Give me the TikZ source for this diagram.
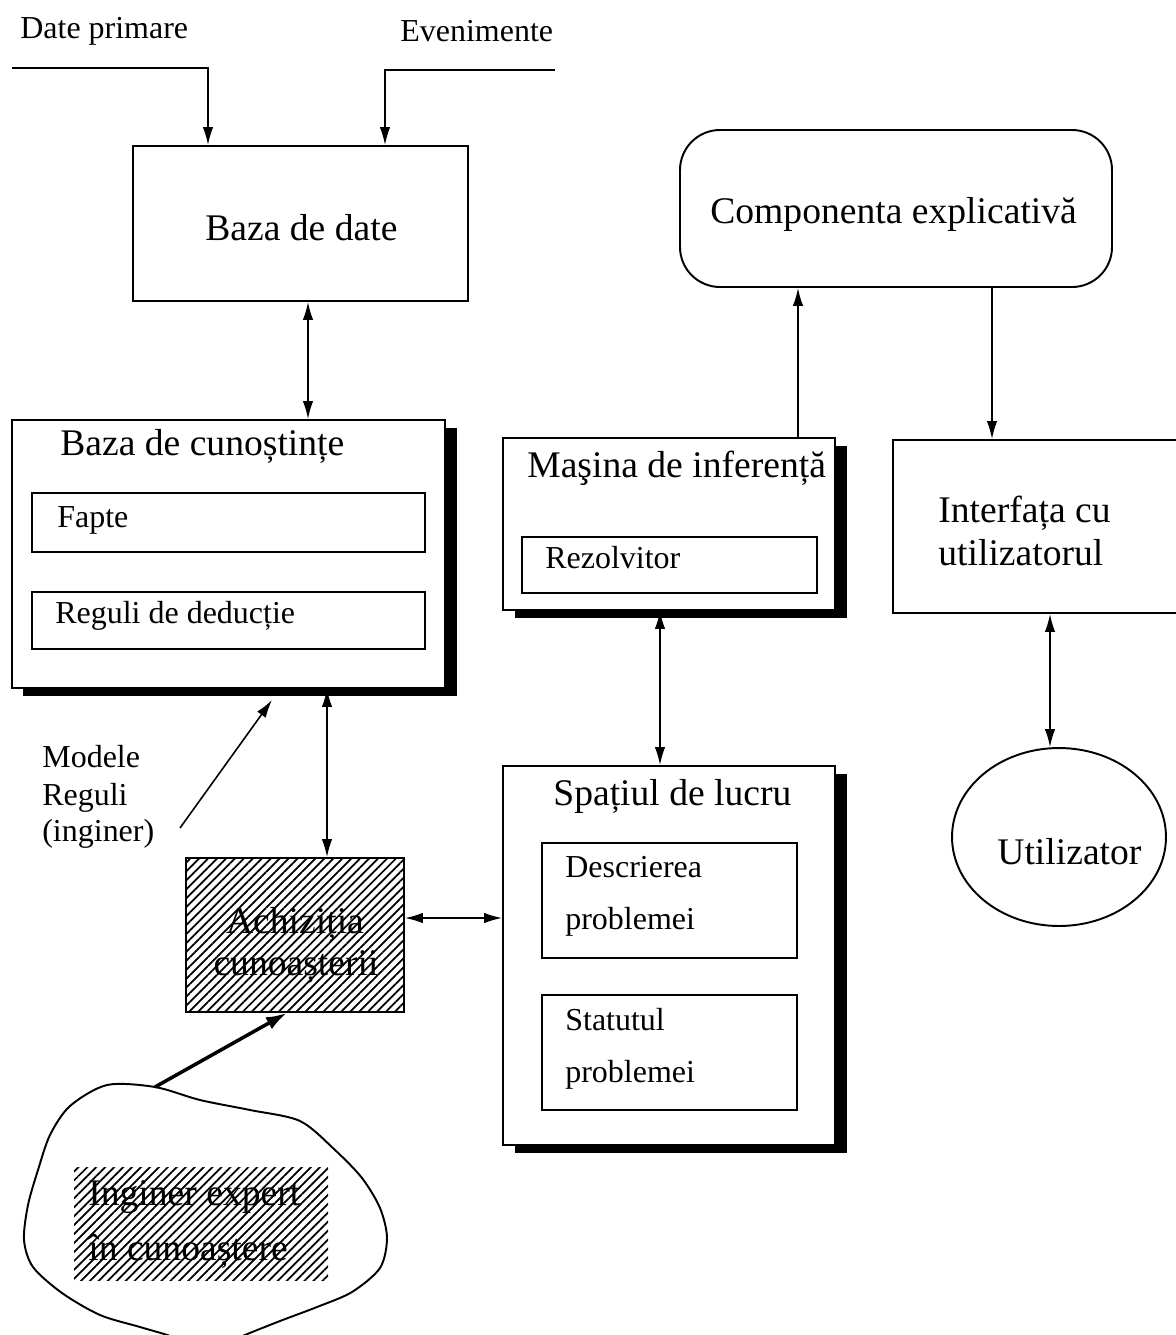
\documentclass[tikz,border=0pt]{standalone}
\usepackage{fontspec}
\setmainfont{Liberation Serif}
\usetikzlibrary{arrows.meta,fit,shadows,patterns.meta,shapes.geometric}

\tikzset{
  box/.style={draw, line width=1.1pt, inner sep=0pt, fill=white},
  shbox/.style={box, drop shadow={shadow xshift=0.23cm, shadow yshift=-0.16cm, opacity=1, fill=black}},
  big/.style={font=\fontsize{21.4pt}{25pt}\selectfont, inner sep=0pt},
  small/.style={font=\fontsize{18.2pt}{22pt}\selectfont, inner sep=0pt},
  tip/.tip={Latex[length=0.36cm,width=0.21cm]},
  arr/.style={line width=0.9pt, -tip},
  darr/.style={line width=0.9pt, tip-tip},
  hatch/.style={pattern={Lines[angle=45,distance=3.6pt,line width=1pt]}},
}

\begin{document}
\begin{tikzpicture}[x=0.02cm, y=-0.02cm]
\useasboundingbox (0,0) rectangle (1176,1335);

% ---------- inputs ----------
\node[small, anchor=base west] (dpt) at (20,39) {Date primare};
\node[small, anchor=base west] (evt) at (400,42) {Evenimente};
\coordinate (dpin) at (12,68);
\coordinate (evin) at (555,70);

% ---------- database ----------
\node[box, fit={(133,146) (468,301)}] (bd) {};
\node[big, anchor=base west] (bdt) at (205,240) {Baza de date};

% ---------- explanation component ----------
\node[box, rounded corners=0.8cm, fit={(680,130) (1112,287)}] (ce) {};
\node[big, anchor=base west] (cet) at (710,223) {Componenta explicativă};

% ---------- knowledge base ----------
\node[shbox, fit={(12,420) (445,688)}] (bc) {};
\node[big, anchor=base west] (bct) at (60,455) {Baza de cunoștințe};
\node[box, fit={(32,493) (425,552)}] (fa) {};
\node[small, anchor=base west] (fat) at (57,527) {Fapte};
\node[box, fit={(32,592) (425,649)}] (rd) {};
\node[small, anchor=base west] (rdt) at (55,623) {Reguli de deducție};

% ---------- inference engine ----------
\node[shbox, fit={(503,438) (835,610)}] (mi) {};
\node[big, anchor=base west] (mit) at (527,477) {Maşina de inferență};
\node[box, fit={(522,537) (817,593)}] (rz) {};
\node[small, anchor=base west] (rzt) at (545,568) {Rezolvitor};

% ---------- user interface ----------
\node[box, fit={(893,440) (1200,613)}] (iu) {};
\node[big, anchor=base west] (iut1) at (938,522) {Interfața cu};
\node[big, anchor=base west] (iut2) at (938,565) {utilizatorul};

% ---------- user ----------
\node[draw, ellipse, line width=1.1pt, inner sep=0pt,
      minimum width=4.28cm, minimum height=3.56cm] (ut) at (1059,837) {};
\node[big, anchor=base west] (utt) at (997,864) {Utilizator};

% ---------- working space ----------
\node[shbox, fit={(503,766) (835,1145)}] (sl) {};
\node[big, anchor=base west] (slt) at (553,805) {Spațiul de lucru};
\node[box, fit={(542,843) (797,958)}] (dp) {};
\node[small, anchor=base west] (dpt1) at (565,877) {Descrierea};
\node[small, anchor=base west] (dpt2) at (565,929) {problemei};
\node[box, fit={(542,995) (797,1110)}] (sp) {};
\node[small, anchor=base west] (spt1) at (565,1030) {Statutul};
\node[small, anchor=base west] (spt2) at (565,1082) {problemei};

% ---------- knowledge acquisition ----------
\node[box, hatch, fit={(186,858) (404,1012)}] (ac) {};
\node[big, anchor=base] (act1) at (295,933) {Achiziția};
\node[big, anchor=base] (act2) at (296,975) {cunoașterii};

% ---------- engineer's notes ----------
\node[small, anchor=base west] (mr1) at (42,767) {Modele};
\node[small, anchor=base west] (mr2) at (42,805) {Reguli};
\node[small, anchor=base west] (mr3) at (42,841) {(inginer)};
\coordinate (mrin) at (180,828);
\coordinate (mrtip) at (272,700);

% ---------- knowledge engineer ----------
\draw[line width=1.1pt] plot[smooth cycle, tension=0.5] coordinates {
  (107,1085) (155,1087) (200,1100) (250,1110) (300,1121) (335,1150)
  (362,1178) (380,1208) (387,1238) (380,1268) (352,1292) (317,1307)
  (280,1321) (240,1337) (206,1352) (173,1337) (140,1327) (100,1315)
  (62,1293) (33,1267) (24,1240) (28,1205) (38,1170) (50,1135)
  (70,1106)};
\coordinate (ie) at (155,1087);
\path[hatch] (74,1167) rectangle (328,1280);
\node[big, anchor=base west] (iet1) at (88,1205) {Inginer expert};
\node[big, anchor=base west] (iet2) at (88,1260) {în cunoaștere};

% ---------- connectors ----------
\draw[arr] (dpin) -| (208,0 |- bd.north);
\draw[arr] (evin) -| (385,0 |- bd.north);
\draw[darr] (308,0 |- bd.south) -- (308,0 |- bc.north);
\draw[arr] (798,0 |- mi.north) -- (798,0 |- ce.south);
\draw[arr] (992,0 |- ce.south) -- (992,0 |- iu.north);
\draw[darr] (1050,0 |- iu.south) -- (1050,0 |- ut.north);
\draw[darr] (660,0 |- mi.south) -- (660,0 |- sl.north);
\draw[darr] (327,0 |- bc.south) -- (327,0 |- ac.north);
\draw[darr] (ac.east |- 0,918) -- (sl.west |- 0,918);
\draw[arr] (mrin) -- (mrtip);
\draw[line width=2pt, -{Latex[length=0.42cm,width=0.27cm]}] (ie) -- (287,0 |- ac.south);
\end{tikzpicture}
\end{document}
